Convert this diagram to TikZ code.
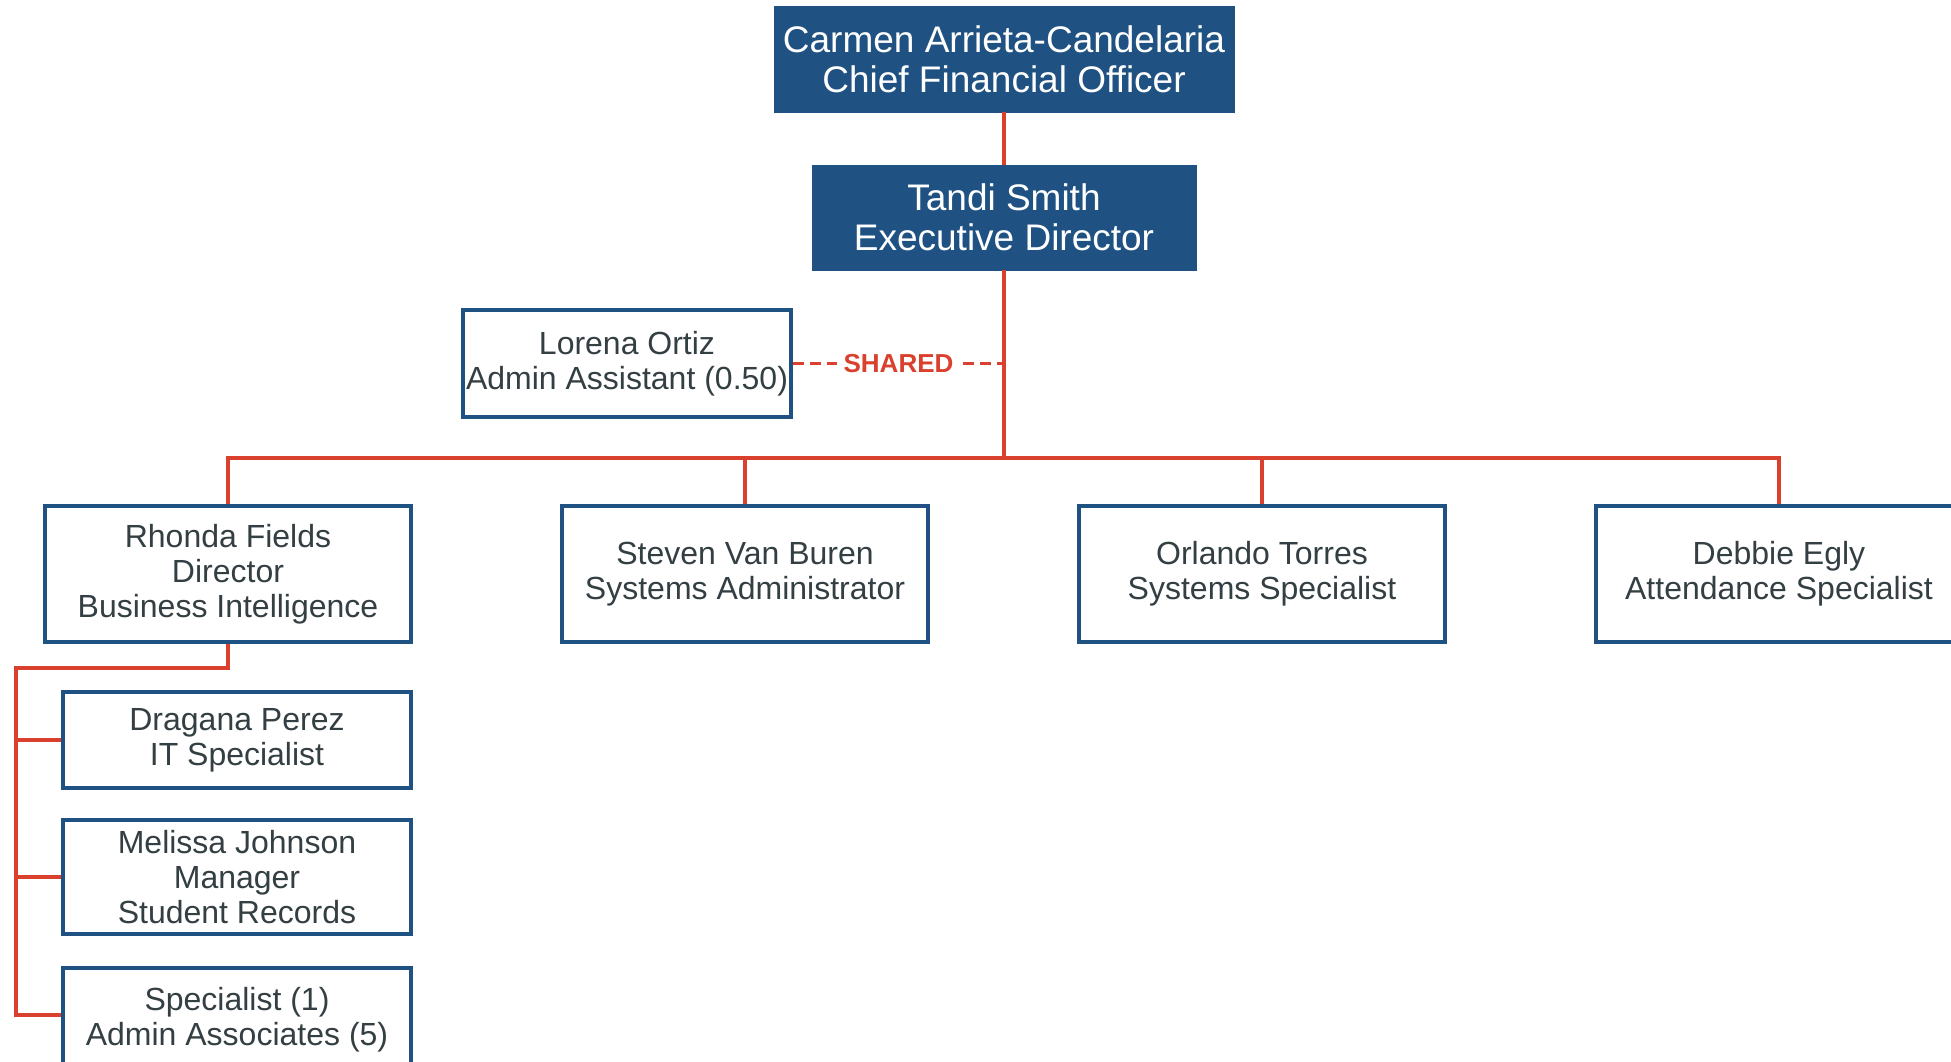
\documentclass[tikz,border=0pt]{standalone}
\usepackage{fontspec}
\setmainfont{Liberation Sans}
\definecolor{hdblue}{HTML}{1F5282}
\definecolor{lnred}{HTML}{D9412E}
\definecolor{txgray}{HTML}{343F43}
\begin{document}
\begin{tikzpicture}[x=1pt,y=-1pt,
  headbox/.style={rectangle, fill=hdblue, draw=hdblue, text=white, align=center, inner sep=0pt,
    font=\fontsize{37}{40}\selectfont},
  staffbox/.style={rectangle, fill=white, draw=hdblue, line width=4pt, text=txgray, align=center, inner sep=0pt,
    font=\fontsize{32}{35}\selectfont},
  link/.style={draw=lnred, line width=3.5pt},
  sharedlink/.style={draw=lnred, line width=3.8pt, dash pattern=on 11pt off 6pt}
]
\useasboundingbox[fill=white] (0,0) rectangle (1951,1061);

\coordinate (bus) at (1004,458);
\coordinate (rb) at (16,668);

% nodes
\node[headbox, minimum width=460pt, minimum height=106pt] (cfo) at (1004,59) {Carmen Arrieta-Candelaria\\Chief Financial Officer};
\node[headbox, minimum width=384pt, minimum height=105pt] (tandi) at (1004,217.5) {Tandi Smith\\Executive Director};
\node[staffbox, minimum width=328pt, minimum height=107pt] (lorena) at (627,363.5) {Lorena Ortiz\\Admin Assistant (0.50)};
\node[staffbox, minimum width=366pt, minimum height=136pt] (rhonda) at (228,574) {Rhonda Fields\\Director\\Business Intelligence};
\node[staffbox, minimum width=366pt, minimum height=136pt] (steven) at (745,574) {Steven Van Buren\\Systems Administrator};
\node[staffbox, minimum width=366pt, minimum height=136pt] (orlando) at (1262,574) {Orlando Torres\\Systems Specialist};
\node[staffbox, minimum width=366pt, minimum height=136pt] (debbie) at (1779,574) {Debbie Egly\\Attendance Specialist};
\node[staffbox, minimum width=348pt, minimum height=96pt] (dragana) at (237,740) {Dragana Perez\\IT Specialist};
\node[staffbox, minimum width=348pt, minimum height=114pt] (melissa) at (237,877) {Melissa Johnson\\Manager\\Student Records};
\node[staffbox, minimum width=348pt, minimum height=104pt] (spec) at (237,1020) {Specialist (1)\\Admin Associates (5)};

% connectors
\draw[link] (cfo.south) -- (tandi.north);
\draw[link] (tandi.south) -- (bus);
\draw[link] (rhonda.north) |- (bus) -| (debbie.north);
\draw[link] (steven.north) -- (steven.north |- bus);
\draw[link] (orlando.north) -- (orlando.north |- bus);
\draw[sharedlink] (lorena.east) -- node[fill=white, text=lnred, inner xsep=7pt, inner ysep=2pt,
  font=\fontsize{26}{28}\selectfont\bfseries] {SHARED} (lorena.east -| tandi.south);
\draw[link] (rhonda.south) |- (rb) |- (spec.west |- 0,1015);
\draw[link] (rb) |- (dragana.west);
\draw[link] (rb) |- (melissa.west);
\end{tikzpicture}
\end{document}
